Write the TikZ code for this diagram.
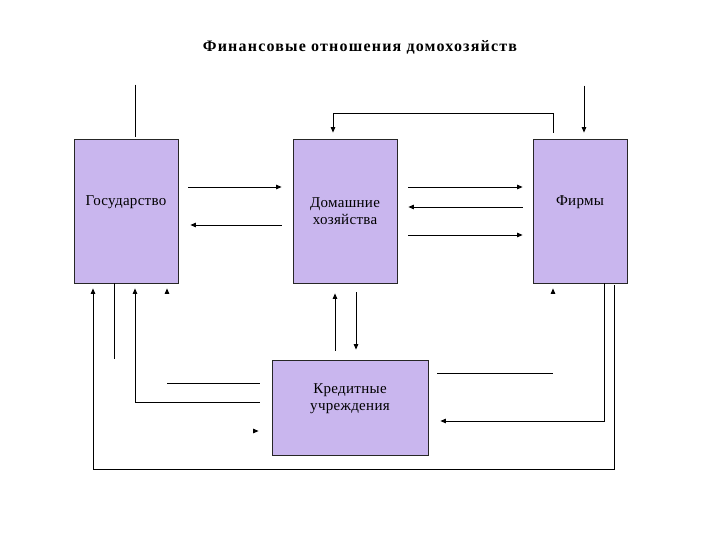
\documentclass[tikz,border=0pt]{standalone}
\usepackage{fontspec}
\setmainfont{Liberation Serif}
\usetikzlibrary{arrows.meta}
\definecolor{boxfill}{RGB}{201,182,238}

\begin{document}
\begin{tikzpicture}[
        x=1pt, y=1pt,
        block/.style={rectangle, draw=black!85, line width=0.8pt, fill=boxfill,
            align=center, inner sep=0pt,
            font=\fontsize{15}{17.5}\selectfont\addfontfeature{LetterSpace=2}},
        line/.style={draw, -{Triangle[length=5.5pt, width=4.5pt]}, line width=0.9pt},
        plain/.style={draw, line width=0.9pt}
    ]
    \useasboundingbox (0,0) rectangle (720,-540);
    \node [font=\fontsize{16}{18}\selectfont\bfseries\addfontfeature{LetterSpace=7.5}]
        (title) at (360,-47) {Финансовые отношения домохозяйств};

    \node [block, minimum width=104pt, minimum height=144pt,
        text height=10pt, text depth=20pt] (gos) at (126,-211) {Государство};
    \node [block, minimum width=104pt, minimum height=144pt] (dom) at (345,-211)
        {Домашние\\хозяйства};
    \node [block, minimum width=94pt, minimum height=144pt,
        text height=10pt, text depth=20pt] (firm) at (580,-211) {Фирмы};
    \node [block, minimum width=156pt, minimum height=95pt,
        text depth=21pt] (kred) at (350,-407.5) {Кредитные\\учреждения};

    % top
    \path [plain] ([shift={(9,54)}]gos.north) -- ([shift={(9,2)}]gos.north);
    \path [line] ([shift={(-27,6)}]firm.north) -- ++(0,19) -| ([shift={(-12,6)}]dom.north);
    \path [line] ([shift={(4,53)}]firm.north) -- ([shift={(4,6)}]firm.north);

    % between the upper boxes
    \path [line] ([shift={(10,24)}]gos.east) -- ([shift={(-11,24)}]dom.west);
    \path [line] ([shift={(-11,-14)}]dom.west) -- ([shift={(12,-14)}]gos.east);
    \path [line] ([shift={(11,24)}]dom.east) -- ([shift={(-10,24)}]firm.west);
    \path [line] ([shift={(-10,4)}]firm.west) -- ([shift={(11,4)}]dom.east);
    \path [line] ([shift={(11,-24)}]dom.east) -- ([shift={(-10,-24)}]firm.west);

    % to and from the credit box
    \path [line] ([shift={(11,-9)}]dom.south) -- ([shift={(6,10)}]kred.north);
    \path [line] ([shift={(-15,9)}]kred.north) -- ([shift={(-10,-10)}]dom.south);
    \path [plain] ([xshift=-12pt]gos.south) -- ([shift={(-12,-76)}]gos.south);
    \path [line] ([shift={(-12,5.5)}]kred.west) -| ([shift={(9,-5)}]gos.south);
    \path [plain] ([shift={(-12,24.5)}]kred.west) -- ([shift={(-105,24.5)}]kred.west);
    \path [line] ([shift={(-16,-23.5)}]kred.west) -- ([shift={(-13,-23.5)}]kred.west);
    \path [plain] ([shift={(9,34.5)}]kred.east) -- ([shift={(125,34.5)}]kred.east);
    \path [line] ([xshift=24pt]firm.south) |- ([shift={(12,-13.5)}]kred.east);

    % lower loop and loose tips
    \path [line] ([shift={(34,-2)}]firm.south) -- ++(0,-184) -| ([shift={(-33,-5)}]gos.south);
    \path [line] ([shift={(41,-8)}]gos.south) -- ([shift={(41,-5)}]gos.south);
    \path [line] ([shift={(-27,-8)}]firm.south) -- ([shift={(-27,-5)}]firm.south);
\end{tikzpicture}
\end{document}
